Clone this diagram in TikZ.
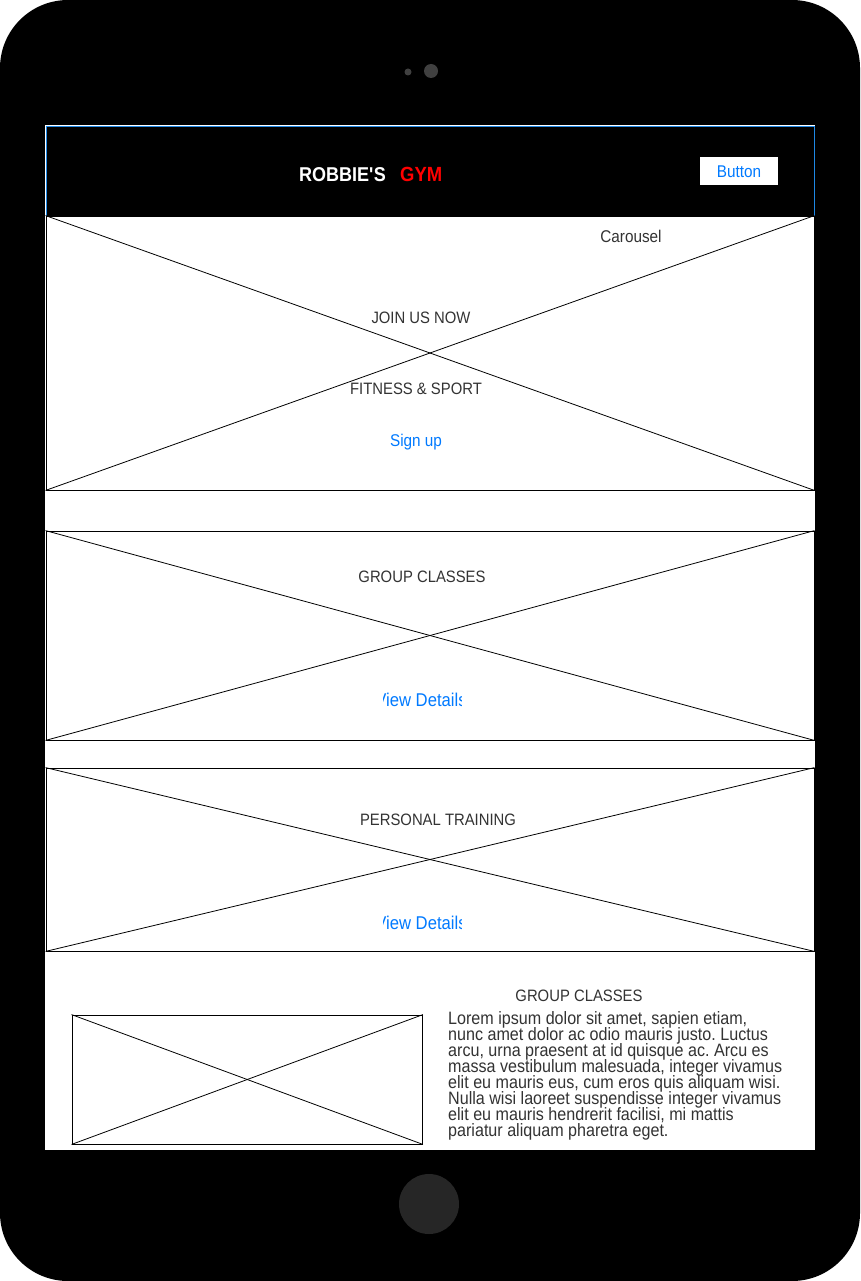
\documentclass[tikz,border=0pt]{standalone}
\usepackage{fontspec}
\setmainfont{Liberation Sans}[FakeStretch=0.9]
\usepackage{tikz}
\frenchspacing

\definecolor{textgray}{RGB}{51,51,51}
\definecolor{linkblue}{RGB}{0,122,255}
\definecolor{edgeblue}{RGB}{30,136,229}
\definecolor{camgray}{RGB}{64,64,64}
\definecolor{homegray}{RGB}{38,38,38}

\newcommand{\paratight}{\lineskiplimit=-20pt\relax}

\tikzset{
    frame/.style={draw=black, fill=white, line width=0.8pt, rectangle, inner sep=0pt},
    cross/.style={draw=black, line width=0.8pt},
    label/.style={inner sep=0pt, text=textgray, font=\fontsize{16.5}{18}\selectfont},
    link/.style={inner sep=0pt, text=linkblue, font=\fontsize{17}{19}\selectfont},
    cam/.style={circle, fill=camgray, inner sep=0pt},
}

\begin{document}
\begin{tikzpicture}[x=1pt, y=-1pt]
    \useasboundingbox (0,0) rectangle (860,1281);
    \fill[black, rounded corners=68pt] (0,0) rectangle (860,1281);

    % camera and home button
    \node[cam, minimum size=7pt] at (408,72) (camsmall) {};
    \node[cam, minimum size=14pt] at (431,71) (camlarge) {};
    \node[circle, fill=homegray, inner sep=0pt, minimum size=60pt] at (429,1204) (home) {};

    % screen
    \node[rectangle, fill=white, inner sep=0pt, minimum width=769.5pt, minimum height=1025pt] at (429.75,637.5) (screen) {};

    % header
    \node[rectangle, fill=black, draw=edgeblue, line width=0.9pt, inner sep=0pt, minimum width=768pt, minimum height=90pt] at (430,171) (header) {};
    \node[anchor=base east, inner sep=0pt, text=white, font=\bfseries\fontsize{20}{22}\selectfont] at (386,182) (brand) {ROBBIE\textquotesingle S};
    \node[anchor=base west, inner sep=0pt, text=red, font=\bfseries\fontsize{20.5}{22}\selectfont] at (400,182) (brandgym) {GYM};
    \node[rectangle, fill=white, inner sep=0pt, minimum width=78pt, minimum height=28pt] at (739,171) (button) {};
    \node[link, anchor=base] at (739,178) (buttontext) {Button};

    % carousel
    \node[frame, minimum width=768pt, minimum height=274pt] at (430,353) (carousel) {};
    \draw[cross] (carousel.north west) -- (carousel.south east);
    \draw[cross] (carousel.south west) -- (carousel.north east);
    \node[label, anchor=base, font=\fontsize{17}{19}\selectfont] at (631,243) (carousellabel) {Carousel};
    \node[label, anchor=base] at (421,323) (joinus) {JOIN US NOW};
    \node[label, anchor=base] at (416,394) (fitness) {FITNESS \& SPORT};
    \node[link, anchor=base] at (416,446) (signup) {Sign up};

    % group classes
    \node[frame, minimum width=768pt, minimum height=209pt] at (430,635.5) (groupbox) {};
    \draw[cross] (groupbox.north west) -- (groupbox.south east);
    \draw[cross] (groupbox.south west) -- (groupbox.north east);
    \node[label, anchor=base] at (422,582) (grouplabel) {GROUP CLASSES};
    \begin{scope}
        \clip (383,680) rectangle (461,720);
        \node[link, anchor=base, font=\fontsize{18.5}{20}\selectfont] at (421,706) (groupdetails) {View Details};
    \end{scope}

    % personal training
    \node[frame, minimum width=768pt, minimum height=183pt] at (430,859.5) (trainbox) {};
    \draw[cross] (trainbox.north west) -- (trainbox.south east);
    \draw[cross] (trainbox.south west) -- (trainbox.north east);
    \node[label, anchor=base] at (438,825) (trainlabel) {PERSONAL TRAINING};
    \begin{scope}
        \clip (383,903) rectangle (461,943);
        \node[link, anchor=base, font=\fontsize{18.5}{20}\selectfont] at (421,929) (traindetails) {View Details};
    \end{scope}

    % bottom section
    \node[frame, minimum width=350.5pt, minimum height=129pt] at (247.25,1079.5) (picture) {};
    \draw[cross] (picture.north west) -- (picture.south east);
    \draw[cross] (picture.south west) -- (picture.north east);
    \node[label, anchor=base] at (579,1001) (classtitle) {GROUP CLASSES};
    \node[inner sep=0pt, anchor=north west, align=left, text=textgray, font=\fontsize{17.9}{16.1}\selectfont\paratight] at (448,1011) (classtext) {Lorem ipsum dolor sit amet, sapien etiam,\\
        nunc amet dolor ac odio mauris justo. Luctus\\
        arcu, urna praesent at id quisque ac. Arcu es\\
        massa vestibulum malesuada, integer vivamus\\
        elit eu mauris eus, cum eros quis aliquam wisi.\\
        Nulla wisi laoreet suspendisse integer vivamus\\
        elit eu mauris hendrerit facilisi, mi mattis\\
        pariatur aliquam pharetra eget.};
\end{tikzpicture}
\end{document}
